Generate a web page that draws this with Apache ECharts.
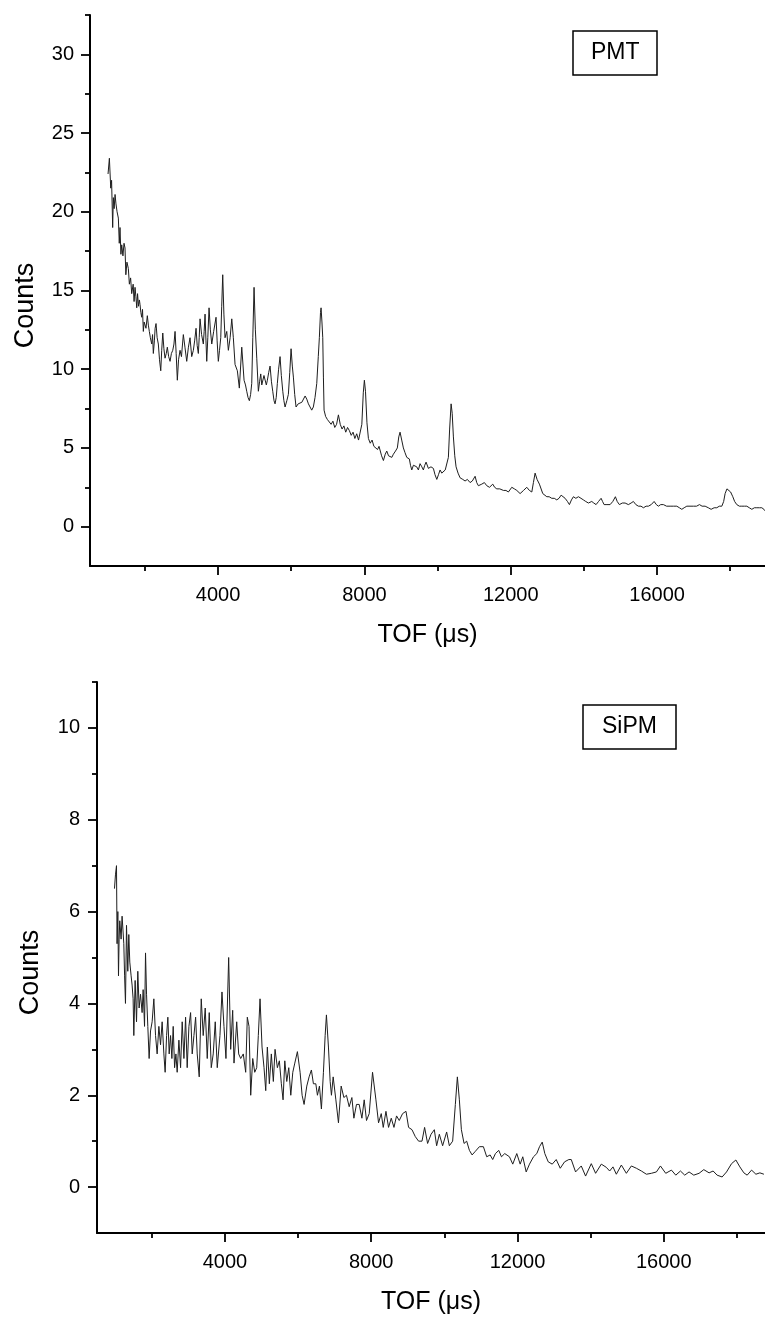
<!DOCTYPE html>
<html>
<head>
<meta charset="utf-8">
<script src="https://cdn.jsdelivr.net/npm/echarts@6/dist/echarts.min.js"></script>
<style>
html,body{margin:0;padding:0;background:#fff;}
#chart{width:765px;height:1323px;}
</style>
</head>
<body>
<div id="chart"></div>
<script>
// ---- PMT spectrum (top panel) ----
const pmtTof = [993,1030,1067,1090,1120,1138,1160,1185,1210,1240,1275,1300,1320,1345,1367,1400,1430,1457,1480,1510,1548,1576,1610,1640,1680,1705,1731,1755,1778,1800,1825,1850,1868,1890,1914,1935,1958,1980,2004,2030,2067,2095,2122,2150,2187,2210,2231,2260,2280,2305,2335,2368,2400,2434,2460,2489,2520,2551,2585,2614,2650,2688,2725,2762,2795,2825,2855,2887,2920,2961,3000,3051,3095,3144,3190,3234,3280,3325,3360,3399,3430,3461,3485,3508,3550,3598,3620,3645,3670,3691,3720,3754,3790,3828,3880,3945,3975,4008,4040,4074,4100,4128,4160,4191,4238,4282,4330,4375,4418,4465,4528,4582,4648,4711,4750,4784,4820,4856,4890,4921,4950,4984,5020,5058,5102,5135,5167,5195,5222,5255,5285,5320,5348,5385,5422,5460,5495,5530,5558,5590,5621,5655,5695,5730,5769,5800,5832,5880,5922,5960,5996,6030,6059,6095,6132,6190,6242,6290,6332,6380,6425,6470,6515,6560,6605,6650,6698,6740,6769,6800,6816,6840,6862,6880,6898,6940,6990,7040,7090,7140,7190,7240,7290,7340,7390,7440,7490,7540,7590,7640,7690,7740,7790,7840,7880,7930,7970,8000,8030,8070,8110,8160,8210,8260,8310,8360,8400,8429,8470,8520,8570,8612,8660,8702,8750,8792,8850,8901,8940,8975,9020,9066,9110,9158,9229,9260,9295,9340,9385,9430,9476,9522,9570,9612,9650,9686,9749,9820,9886,9930,9979,10025,10069,10115,10159,10210,10252,10296,10330,10370,10400,10433,10470,10506,10560,10616,10690,10752,10815,10889,10950,11026,11070,11116,11209,11280,11345,11420,11509,11560,11619,11700,11800,11870,11936,12029,12100,12166,12256,12350,12439,12510,12576,12620,12666,12720,12784,12876,12986,13050,13122,13190,13259,13320,13377,13430,13486,13550,13604,13660,13713,13780,13850,13920,13986,14050,14123,14170,14215,14270,14333,14400,14470,14510,14552,14630,14716,14790,14861,14910,14970,15050,15126,15170,15216,15290,15353,15420,15490,15560,15627,15700,15763,15840,15919,15980,16036,16100,16173,16260,16356,16450,16539,16610,16676,16740,16813,16900,16995,17080,17159,17230,17313,17400,17477,17560,17633,17700,17770,17820,17860,17910,17951,18010,18070,18120,18179,18250,18316,18390,18453,18520,18590,18660,18727,18800,18863,18920,18953];
const pmtCounts = [22.4,23.4,21.5,22.0,19.0,20.9,20.2,21.1,20.5,20.0,19.6,18.0,19.0,17.3,17.9,17.2,18.0,17.7,16.0,16.8,16.4,15.4,15.8,14.8,15.4,14.3,15.2,14.6,13.9,14.8,14.0,14.4,14.1,13.6,13.3,13.8,12.4,13.0,13.1,12.6,13.4,12.8,12.4,12.0,11.6,12.2,11.0,11.8,12.6,12.9,12.0,11.6,10.6,9.9,11.2,12.3,11.3,10.7,11.0,11.4,10.8,10.5,11.0,11.2,11.6,12.4,11.0,9.3,10.6,11.2,10.8,12.2,11.4,10.5,11.4,12.0,10.8,11.2,11.8,12.6,11.5,11.0,12.0,13.2,12.2,11.6,12.4,13.5,11.8,10.5,12.0,13.9,12.5,11.6,12.4,13.3,11.8,10.5,11.2,12.0,14.0,16.0,13.5,12.0,12.4,11.2,12.0,13.2,12.0,10.3,9.9,8.8,11.4,9.3,9.0,8.6,8.2,8.0,8.4,9.1,12.0,15.2,12.5,10.7,8.6,9.2,9.7,9.0,9.1,9.6,9.5,9.0,9.3,9.8,10.2,9.2,8.6,8.0,7.8,8.2,9.1,10.0,10.8,9.6,8.6,8.0,7.6,8.0,8.4,9.8,11.3,10.2,9.5,8.4,7.6,7.8,7.7,7.9,8.0,8.3,8.1,7.8,7.6,7.4,7.6,8.2,9.1,10.8,12.0,13.6,13.9,13.0,12.0,9.5,7.4,7.0,6.8,6.9,6.5,6.7,6.3,6.5,7.1,6.5,6.2,6.4,6.0,6.3,6.1,5.8,6.0,5.6,5.9,5.5,5.6,6.5,8.5,9.3,8.6,6.6,5.6,5.3,5.5,5.1,5.2,4.9,5.1,5.1,4.5,4.2,4.6,4.8,4.5,4.6,4.4,4.6,4.8,5.0,5.7,6.0,5.5,5.0,4.7,4.4,4.3,3.9,3.6,3.9,4.0,3.8,3.6,4.0,3.8,3.6,3.9,4.1,3.7,3.8,3.7,3.3,3.0,3.3,3.6,3.4,3.3,3.6,3.7,4.4,6.2,7.8,7.2,5.7,4.5,3.8,3.4,3.1,3.0,2.9,3.0,2.8,2.9,3.2,2.8,2.6,2.7,2.8,2.6,2.5,2.7,2.5,2.4,2.4,2.3,2.3,2.2,2.5,2.4,2.3,2.1,2.3,2.5,2.3,2.2,2.8,3.4,3.0,2.7,2.1,1.9,1.9,1.8,1.8,1.7,1.8,2.0,1.9,1.8,1.6,1.4,1.7,1.9,1.8,1.9,1.8,1.7,1.6,1.5,1.6,1.6,1.5,1.4,1.6,1.8,1.6,1.4,1.4,1.4,1.6,1.9,1.6,1.4,1.5,1.5,1.4,1.4,1.5,1.6,1.4,1.3,1.3,1.2,1.3,1.3,1.4,1.6,1.4,1.3,1.4,1.4,1.3,1.3,1.3,1.3,1.2,1.1,1.2,1.3,1.3,1.3,1.3,1.4,1.3,1.3,1.2,1.1,1.2,1.2,1.3,1.3,1.6,2.1,2.4,2.5,2.2,1.9,1.6,1.4,1.3,1.3,1.3,1.3,1.2,1.1,1.2,1.2,1.2,1.2,1.1,1.0];

// ---- SiPM spectrum (bottom panel) ----
const sipmTof = [978,1005,1033,1049,1070,1088,1105,1123,1159,1186,1210,1233,1255,1279,1307,1342,1370,1397,1433,1460,1488,1507,1543,1581,1616,1652,1690,1734,1762,1800,1827,1855,1890,1926,1964,2008,2055,2101,2145,2192,2238,2282,2329,2364,2403,2438,2474,2512,2548,2584,2622,2658,2693,2740,2786,2830,2877,2923,2967,3014,3060,3104,3151,3197,3241,3296,3351,3405,3460,3515,3570,3625,3679,3734,3789,3863,3918,3973,4027,4101,4156,4211,4247,4321,4375,4430,4501,4567,4611,4658,4704,4759,4814,4868,4912,4959,5014,5068,5115,5159,5214,5268,5323,5370,5433,5488,5542,5589,5636,5690,5745,5800,5855,5910,5981,6055,6110,6164,6238,6301,6364,6419,6485,6529,6584,6638,6693,6740,6775,6830,6877,6912,6959,7033,7104,7178,7252,7323,7397,7471,7526,7597,7671,7745,7808,7871,7945,8036,8129,8200,8274,8329,8403,8474,8548,8622,8693,8767,8858,8951,9022,9115,9205,9296,9389,9460,9542,9636,9726,9789,9863,9953,10063,10137,10227,10301,10356,10411,10466,10539,10611,10685,10759,10849,10959,11068,11159,11252,11323,11397,11488,11562,11652,11781,11871,11981,12074,12145,12238,12329,12438,12529,12603,12677,12748,12841,12951,13060,13170,13288,13405,13471,13589,13745,13863,14019,14137,14293,14430,14521,14612,14704,14841,14978,15115,15252,15389,15526,15663,15800,15910,16055,16211,16329,16458,16575,16693,16822,16967,17096,17241,17351,17460,17597,17718,17855,17973,18082,18192,18282,18403,18521,18630,18740];
const sipmCounts = [6.5,6.8,7.0,5.3,6.0,4.6,5.4,5.8,5.4,5.9,5.6,5.3,4.6,4.0,5.7,4.7,5.5,4.9,4.6,4.4,4.1,3.3,4.5,3.6,4.7,3.9,4.2,3.8,4.3,3.5,5.1,4.2,3.5,2.8,3.4,3.6,4.1,3.3,2.9,3.5,3.1,3.6,2.9,2.5,3.3,3.7,2.9,3.3,2.8,3.5,2.6,2.9,2.5,3.2,2.6,3.6,2.8,3.7,2.6,3.5,3.8,2.9,3.3,3.7,2.9,2.4,4.1,3.3,3.9,2.8,3.8,2.6,2.9,3.6,2.6,3.3,4.25,3.5,2.8,5.0,3.0,3.85,2.7,3.6,2.9,2.8,2.9,2.5,3.7,3.5,2.0,2.8,2.5,2.6,3.3,4.1,3.05,2.6,2.1,3.05,2.25,2.9,2.3,3.0,2.6,2.75,2.25,1.9,2.75,2.3,2.6,2.0,2.5,2.7,2.95,2.5,2.0,1.8,2.2,2.4,2.55,2.25,2.25,2.0,2.2,1.7,2.5,3.3,3.75,3.05,2.3,2.0,2.4,1.9,1.4,2.2,1.95,2.0,1.75,1.95,1.5,1.8,1.8,1.5,1.9,1.45,1.6,2.5,1.9,1.4,1.6,1.3,1.65,1.3,1.5,1.3,1.55,1.45,1.6,1.65,1.3,1.25,1.1,1.0,1.0,1.3,0.95,1.15,1.25,0.9,1.15,0.9,1.2,0.9,1.0,1.8,2.4,1.9,1.25,0.95,1.0,0.8,0.7,0.78,0.88,0.88,0.66,0.7,0.6,0.73,0.8,0.66,0.73,0.66,0.5,0.73,0.5,0.66,0.33,0.5,0.66,0.73,0.88,0.98,0.73,0.55,0.5,0.6,0.41,0.55,0.6,0.6,0.33,0.46,0.24,0.51,0.3,0.5,0.43,0.35,0.44,0.28,0.48,0.3,0.46,0.41,0.35,0.28,0.3,0.33,0.46,0.3,0.37,0.26,0.35,0.26,0.33,0.26,0.3,0.38,0.31,0.35,0.26,0.22,0.33,0.51,0.59,0.44,0.31,0.26,0.37,0.28,0.31,0.28];

// ---- axis ticks / labels ----
const xMajorTicks = [4000, 8000, 12000, 16000];
const xMinorTicks = [2000, 6000, 10000, 14000, 18000];
const pmtYMajor = [0, 5, 10, 15, 20, 25, 30];
const pmtYMinor = [2.5, 7.5, 12.5, 17.5, 22.5, 27.5, 32.5];
const sipmYMajor = [0, 2, 4, 6, 8, 10];
const sipmYMinor = [1, 3, 5, 7, 9, 11];
const panelLabels = ['PMT', 'SiPM'];
const xTitle = 'TOF (\u03bcs)';
const yTitle = 'Counts';

const FONT = '"Liberation Sans", Arial, sans-serif';
const BLACK = '#000';
const plain = v => String(v);

function zip(a, b) { return a.map((v, i) => [v, b[i]]); }

function xAxes(grid, min, max) {
  return [
    {
      gridIndex: grid, type: 'value', position: 'bottom', min: min, max: max,
      axisLine: { show: true, onZero: false, lineStyle: { color: BLACK, width: 2 } },
      axisTick: { show: true, customValues: xMajorTicks, length: 9, lineStyle: { color: BLACK, width: 1.8 } },
      axisLabel: { show: true, customValues: xMajorTicks, formatter: plain, margin: 19, fontSize: 20, color: BLACK, fontFamily: FONT },
      splitLine: { show: false },
      name: xTitle, nameLocation: 'middle', nameGap: 57,
      nameTextStyle: { fontSize: 25, color: BLACK, fontFamily: FONT }
    },
    {
      gridIndex: grid, type: 'value', position: 'bottom', offset: 0, min: min, max: max,
      axisLine: { show: false, onZero: false },
      axisTick: { show: true, customValues: xMinorTicks, length: 5, lineStyle: { color: BLACK, width: 1.8 } },
      axisLabel: { show: false },
      splitLine: { show: false }
    }
  ];
}
function yAxes(grid, min, max, major, minor, margin, gap) {
  return [
    {
      gridIndex: grid, type: 'value', position: 'left', min: min, max: max,
      axisLine: { show: true, onZero: false, lineStyle: { color: BLACK, width: 2 } },
      axisTick: { show: true, customValues: major, length: 9, lineStyle: { color: BLACK, width: 1.8 } },
      axisLabel: { show: true, customValues: major, formatter: plain, margin: margin, fontSize: 20, color: BLACK, fontFamily: FONT },
      splitLine: { show: false },
      name: yTitle, nameLocation: 'middle', nameGap: gap, nameRotate: 90,
      nameTextStyle: { fontSize: 27, color: BLACK, fontFamily: FONT, padding: [0, 30, 0, 0] }
    },
    {
      gridIndex: grid, type: 'value', position: 'left', offset: 0, min: min, max: max,
      axisLine: { show: false, onZero: false },
      axisTick: { show: true, customValues: minor, length: 5, lineStyle: { color: BLACK, width: 1.8 } },
      axisLabel: { show: false },
      splitLine: { show: false }
    }
  ];
}

const chart = echarts.init(document.getElementById('chart'), null, { renderer: 'canvas' });
chart.setOption({
  animation: false,
  backgroundColor: '#fff',
  title: [
    {
      text: panelLabels[0], left: 573, top: 31, padding: [10, 18, 11, 18],
      borderColor: BLACK, borderWidth: 1.5,
      textStyle: { fontSize: 23, fontWeight: 'normal', color: BLACK, fontFamily: FONT }
    },
    {
      text: panelLabels[1], left: 583, top: 705, padding: [10, 19, 11, 19],
      borderColor: BLACK, borderWidth: 1.5,
      textStyle: { fontSize: 23, fontWeight: 'normal', color: BLACK, fontFamily: FONT }
    }
  ],
  grid: [
    { left: 90, top: 15, right: 0, height: 551, containLabel: false, outerBoundsMode: 'none' },
    { left: 97, top: 682, right: 0, height: 551, containLabel: false, outerBoundsMode: 'none' }
  ],
  xAxis: [].concat(xAxes(0, 500, 18950), xAxes(1, 500, 18770)),
  yAxis: [].concat(
    yAxes(0, -2.5, 32.5, pmtYMajor, pmtYMinor, 16, 51),
    yAxes(1, -1, 11, sipmYMajor, sipmYMinor, 17, 53)
  ),
  series: [
    {
      type: 'line', name: panelLabels[0], xAxisIndex: 0, yAxisIndex: 0,
      data: zip(pmtTof, pmtCounts), showSymbol: false, symbol: 'none',
      lineStyle: { color: '#1e1e1e', width: 1 }, silent: true
    },
    {
      type: 'line', name: panelLabels[1], xAxisIndex: 2, yAxisIndex: 2,
      data: zip(sipmTof, sipmCounts), showSymbol: false, symbol: 'none',
      lineStyle: { color: '#1e1e1e', width: 1 }, silent: true
    }
  ]
});
</script>
</body>
</html>
